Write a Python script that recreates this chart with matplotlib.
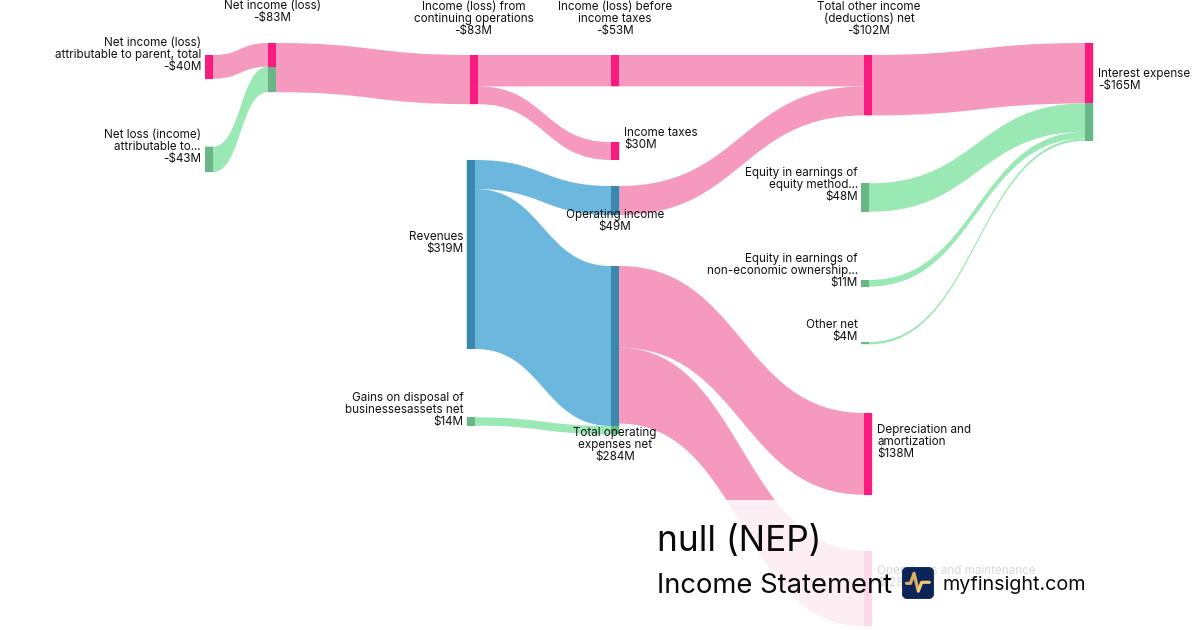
import matplotlib
matplotlib.use("Agg")
import matplotlib.pyplot as plt
from matplotlib.path import Path
from matplotlib.patches import PathPatch, Rectangle, FancyBboxPatch

plt.rcParams['font.family'] = ['Inter', 'DejaVu Sans']

# ---- data ($M) ----
node_names = ["parent", "nci", "net", "cont", "pretax", "taxes", "other_total", "interest",
              "revenues", "gains", "opinc", "opex", "equity", "noneco", "othernet", "dep", "om"]
node_labels = [
    ["Net income (loss)", "attributable to parent, total", "-$40M"],
    ["Net loss (income)", "attributable to...", "-$43M"],
    ["Net income (loss)", "-$83M"],
    ["Income (loss) from", "continuing operations", "-$83M"],
    ["Income (loss) before", "income taxes", "-$53M"],
    ["Income taxes", "$30M"],
    ["Total other income", "(deductions) net", "-$102M"],
    ["Interest expense", "-$165M"],
    ["Revenues", "$319M"],
    ["Gains on disposal of", "businessesassets net", "$14M"],
    ["Operating income", "$49M"],
    ["Total operating", "expenses net", "$284M"],
    ["Equity in earnings of", "equity method...", "$48M"],
    ["Equity in earnings of", "non-economic ownership...", "$11M"],
    ["Other net", "$4M"],
    ["Depreciation and", "amortization", "$138M"],
    ["Operations and maintenance", "$128M"],
]
link_source = ["parent", "nci", "net", "cont", "cont", "pretax", "opinc", "other_total",
               "equity", "noneco", "othernet", "revenues", "revenues", "gains", "opex", "opex"]
link_target = ["net", "net", "cont", "pretax", "taxes", "other_total", "other_total", "interest",
               "interest", "interest", "interest", "opinc", "opex", "opex", "dep", "om"]
link_value = [40, 43, 83, 53, 30, 53, 49, 102, 48, 11, 4, 49, 270, 14, 138, 128]
link_kind = ["loss", "gain", "loss", "loss", "loss", "loss", "loss", "loss",
             "gain", "gain", "gain", "rev", "rev", "gain", "loss", "loss"]

# ---- layout and style ----
PX_PER_M = 0.5925
NODE_W = 8.4
LABEL_PT = 8.4
node_x = dict(parent=205, nci=205, net=267.7, cont=470, pretax=611, taxes=611, other_total=864,
              interest=1085, revenues=466.7, gains=466.7, opinc=611, opex=611, equity=861,
              noneco=861, othernet=861, dep=864, om=864)
node_y = dict(parent=55, nci=146.5, net=43, cont=55, pretax=55, taxes=142.2, other_total=55,
              interest=43, revenues=160, gains=417.3, opinc=186, opex=266, equity=183.3,
              noneco=280, othernet=342, dep=413, om=550.5)
# (text anchor x, horizontal alignment, y centre of the first line)
label_pos = dict(parent=(201, "right", 43), nci=(201, "right", 135), net=(272, "center", 6),
                 cont=(473.5, "center", 7), pretax=(615, "center", 7), taxes=(624, "left", 133),
                 other_total=(869, "center", 7), interest=(1098, "left", 74),
                 revenues=(463.5, "right", 237), gains=(463.5, "right", 398),
                 opinc=(615, "center", 215), opex=(615, "center", 433),
                 equity=(858, "right", 173), noneco=(858, "right", 259),
                 othernet=(858, "right", 325), dep=(877, "left", 430), om=(877, "left", 571))
link_color = dict(loss="#F59ABE", gain="#9AE8B4", rev="#6BB7DD")
node_color = dict(loss="#F91C7E", gain="#69B686", rev="#3B88AF")

fig = plt.figure(figsize=(12, 6.3), dpi=100, facecolor="white")
ax = fig.add_axes([0, 0, 1, 1])
ax.set_xlim(0, 1200)
ax.set_ylim(630, 0)
ax.axis("off")

out_off = {n: 0.0 for n in node_names}
in_off = {n: 0.0 for n in node_names}
segments = {n: [] for n in node_names}

for s, t, v, k in zip(link_source, link_target, link_value, link_kind):
    h = v * PX_PER_M
    xs = node_x[s]
    x0 = xs + NODE_W
    x1 = node_x[t]
    xe = x1 + NODE_W
    y0 = node_y[s] + out_off[s]
    y1 = node_y[t] + in_off[t]
    xm = (x0 + x1) / 2
    verts = [(xs, y0), (x0, y0), (xm, y0), (xm, y1), (x1, y1), (xe, y1), (xe, y1 + h), (x1, y1 + h),
             (xm, y1 + h), (xm, y0 + h), (x0, y0 + h), (xs, y0 + h), (xs, y0)]
    codes = [Path.MOVETO, Path.LINETO, Path.CURVE4, Path.CURVE4, Path.CURVE4, Path.LINETO, Path.LINETO,
             Path.LINETO, Path.CURVE4, Path.CURVE4, Path.CURVE4, Path.LINETO, Path.CLOSEPOLY]
    ax.add_patch(PathPatch(Path(verts, codes), facecolor=link_color[k], edgecolor="none", zorder=1))
    segments[t].append((in_off[t], h, k))
    in_off[t] += h
    out_off[s] += h

# sources without incoming links take the colour of their outgoing link
for s, v, k in zip(link_source, link_value, link_kind):
    if not any(t == s for t in link_target) and not segments[s]:
        segments[s].append((0.0, out_off[s], k))

for n in node_names:
    for off, h, k in segments[n]:
        ax.add_patch(Rectangle((node_x[n], node_y[n] + off), NODE_W, h,
                               facecolor=node_color[k], edgecolor="none", zorder=2))

for n, lines in zip(node_names, node_labels):
    x, ha, y = label_pos[n]
    for i, line in enumerate(lines):
        ax.text(x, y + i * 12, line, ha=ha, va="center", fontsize=LABEL_PT, color="#111111", zorder=3)

# fade over the lower part of the chart
ax.add_patch(Rectangle((0, 500), 1200, 130, facecolor="white", edgecolor="none", alpha=0.84, zorder=4))

ax.text(657, 541, "null (NEP)", fontsize=25.3, ha="left", va="center", color="#0a0a0a", zorder=5)
ax.text(657, 586, "Income Statement", fontsize=19.7, ha="left", va="center", color="#0a0a0a", zorder=5)
ax.text(942, 584.5, "myfinsight.com", fontsize=14.2, ha="left", va="center", color="#0a0a0a", zorder=5)

ax.add_patch(FancyBboxPatch((904, 569), 28, 28, boxstyle="round,pad=0,rounding_size=3",
                            mutation_aspect=1, facecolor="#0B2559", edgecolor="#0B2559",
                            linewidth=2.8, zorder=5))
ax.plot([906.5, 910.5, 914, 918.3], [583.3, 583.3, 573.3, 591], color="#E0AE62", lw=2.3,
        solid_capstyle="round", solid_joinstyle="round", zorder=6)
ax.plot([918.3, 921.7, 929.3], [591, 582.3, 582.3], color="#F2C76E", lw=2.3,
        solid_capstyle="round", solid_joinstyle="round", zorder=6)

fig.savefig("out.png", dpi=100)
